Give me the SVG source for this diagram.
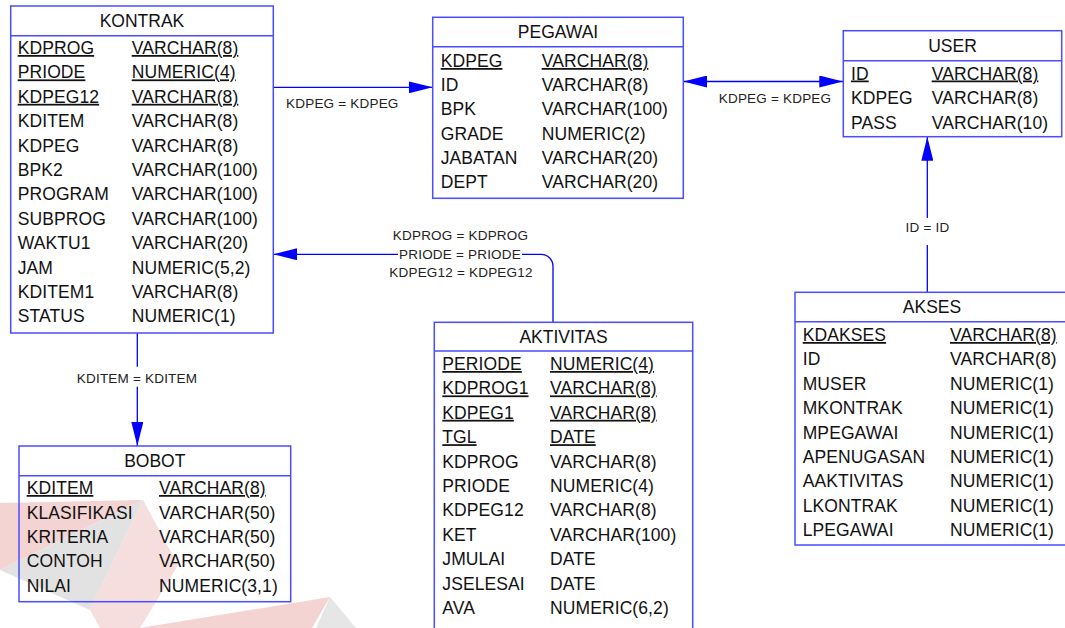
<svg xmlns="http://www.w3.org/2000/svg" width="1065" height="628" viewBox="0 0 1065 628">
  <style>
    .box { fill: none; stroke: #4b4bff; stroke-width: 1.5; }
    .sep { stroke: #4b4bff; stroke-width: 1.5; }
    .title { font-family: "Liberation Sans", Arial, sans-serif; font-size: 17.5px; fill: #111; text-anchor: middle; }
    .col { font-family: "Liberation Sans", Arial, sans-serif; font-size: 17.5px; fill: #111; letter-spacing: 0.1px; }
    .pk { text-decoration: underline; text-decoration-thickness: 2px; text-underline-offset: 2px; }
    .conn { fill: none; stroke: #0000ff; stroke-width: 1.3; }
    .lbl { font-family: "Liberation Sans", Arial, sans-serif; font-size: 13.5px; fill: #222; text-anchor: middle; letter-spacing: 0.2px; }
  </style>
  <defs>
    <marker id="arrow" viewBox="0 0 24 12" refX="24" refY="6" markerWidth="24" markerHeight="12" markerUnits="userSpaceOnUse" orient="auto-start-reverse">
      <path d="M0,0 L24,6 L0,12 Z" fill="#0000ff"/>
    </marker>
  </defs>

  <rect width="1065" height="628" fill="#ffffff"/>

  <!-- faint background logo -->
  <g id="watermark">
    <polygon points="0,503 143,500 0,570" fill="#f4d3d3"/>
    <polygon points="0,570 143,500 90,610" fill="#e2e2e2"/>
    <polygon points="143,500 178,565 140,628 100,628 90,610" fill="#f6dede"/>
    <polygon points="140,628 330,597 312,628" fill="#f4d3d3"/>
    <polygon points="330,597 356,628 316,628" fill="#e6e6e6"/>
  </g>

  <!-- relationships -->
  <g id="connectors">
    <path class="conn" d="M273.3,87.3 H432.7" marker-end="url(#arrow)"/>
    <path class="conn" d="M683.3,81.5 H843.3" marker-start="url(#arrow)" marker-end="url(#arrow)"/>
    <path class="conn" d="M553,322.3 V266.3 A12,12 0 0 0 541,254.3 H522"/>
    <path class="conn" d="M398,254.3 H273.3" marker-end="url(#arrow)"/>
    <path class="conn" d="M137.3,333 V366.7"/>
    <path class="conn" d="M137.3,386.7 V446" marker-end="url(#arrow)"/>
    <path class="conn" d="M927.3,292.3 V245"/>
    <path class="conn" d="M927.3,218 V136.7" marker-end="url(#arrow)"/>
    <text class="lbl" x="342.3" y="108">KDPEG = KDPEG</text>
    <text class="lbl" x="775" y="103">KDPEG = KDPEG</text>
    <text class="lbl" x="460.5" y="239.5">KDPROG = KDPROG</text>
    <text class="lbl" x="460" y="258.5">PRIODE = PRIODE</text>
    <text class="lbl" x="461" y="277">KDPEG12 = KDPEG12</text>
    <text class="lbl" x="137" y="383">KDITEM = KDITEM</text>
    <text class="lbl" x="927.5" y="232">ID = ID</text>
  </g>

  <!-- KONTRAK -->
  <g id="kontrak">
    <rect class="box" x="10.7" y="6" width="262.6" height="327"/>
    <line class="sep" x1="10.7" y1="35.7" x2="273.3" y2="35.7"/>
    <text class="title" x="142" y="27">KONTRAK</text>
    <text class="col pk" x="17.7" y="54">KDPROG</text><text class="col pk" x="131.7" y="54">VARCHAR(8)</text>
    <text class="col pk" x="17.7" y="78.4">PRIODE</text><text class="col pk" x="131.7" y="78.4">NUMERIC(4)</text>
    <text class="col pk" x="17.7" y="102.8">KDPEG12</text><text class="col pk" x="131.7" y="102.8">VARCHAR(8)</text>
    <text class="col" x="17.7" y="127.2">KDITEM</text><text class="col" x="131.7" y="127.2">VARCHAR(8)</text>
    <text class="col" x="17.7" y="151.6">KDPEG</text><text class="col" x="131.7" y="151.6">VARCHAR(8)</text>
    <text class="col" x="17.7" y="176">BPK2</text><text class="col" x="131.7" y="176">VARCHAR(100)</text>
    <text class="col" x="17.7" y="200.4">PROGRAM</text><text class="col" x="131.7" y="200.4">VARCHAR(100)</text>
    <text class="col" x="17.7" y="224.8">SUBPROG</text><text class="col" x="131.7" y="224.8">VARCHAR(100)</text>
    <text class="col" x="17.7" y="249.2">WAKTU1</text><text class="col" x="131.7" y="249.2">VARCHAR(20)</text>
    <text class="col" x="17.7" y="273.6">JAM</text><text class="col" x="131.7" y="273.6">NUMERIC(5,2)</text>
    <text class="col" x="17.7" y="298">KDITEM1</text><text class="col" x="131.7" y="298">VARCHAR(8)</text>
    <text class="col" x="17.7" y="322.4">STATUS</text><text class="col" x="131.7" y="322.4">NUMERIC(1)</text>
  </g>

  <!-- PEGAWAI -->
  <g id="pegawai">
    <rect class="box" x="432.7" y="17.3" width="250.6" height="181"/>
    <line class="sep" x1="432.7" y1="46.7" x2="683.3" y2="46.7"/>
    <text class="title" x="558" y="38.3">PEGAWAI</text>
    <text class="col pk" x="440.7" y="67">KDPEG</text><text class="col pk" x="541.7" y="67">VARCHAR(8)</text>
    <text class="col" x="440.7" y="91.2">ID</text><text class="col" x="541.7" y="91.2">VARCHAR(8)</text>
    <text class="col" x="440.7" y="115.4">BPK</text><text class="col" x="541.7" y="115.4">VARCHAR(100)</text>
    <text class="col" x="440.7" y="139.6">GRADE</text><text class="col" x="541.7" y="139.6">NUMERIC(2)</text>
    <text class="col" x="440.7" y="163.8">JABATAN</text><text class="col" x="541.7" y="163.8">VARCHAR(20)</text>
    <text class="col" x="440.7" y="188">DEPT</text><text class="col" x="541.7" y="188">VARCHAR(20)</text>
  </g>

  <!-- USER -->
  <g id="user">
    <rect class="box" x="843.3" y="30.7" width="218.4" height="106"/>
    <line class="sep" x1="843.3" y1="60.7" x2="1061.7" y2="60.7"/>
    <text class="title" x="952.5" y="52">USER</text>
    <text class="col pk" x="851" y="79.5">ID</text><text class="col pk" x="931.7" y="79.5">VARCHAR(8)</text>
    <text class="col" x="851" y="104">KDPEG</text><text class="col" x="931.7" y="104">VARCHAR(8)</text>
    <text class="col" x="851" y="128.5">PASS</text><text class="col" x="931.7" y="128.5">VARCHAR(10)</text>
  </g>

  <!-- BOBOT -->
  <g id="bobot">
    <rect class="box" x="19" y="446" width="271.7" height="155.7"/>
    <line class="sep" x1="19" y1="475.7" x2="290.7" y2="475.7"/>
    <text class="title" x="154.8" y="466.5">BOBOT</text>
    <text class="col pk" x="26.7" y="494">KDITEM</text><text class="col pk" x="159" y="494">VARCHAR(8)</text>
    <text class="col" x="26.7" y="518.5">KLASIFIKASI</text><text class="col" x="159" y="518.5">VARCHAR(50)</text>
    <text class="col" x="26.7" y="543">KRITERIA</text><text class="col" x="159" y="543">VARCHAR(50)</text>
    <text class="col" x="26.7" y="567">CONTOH</text><text class="col" x="159" y="567">VARCHAR(50)</text>
    <text class="col" x="26.7" y="591.5">NILAI</text><text class="col" x="159" y="591.5">NUMERIC(3,1)</text>
  </g>

  <!-- AKTIVITAS -->
  <g id="aktivitas">
    <rect class="box" x="434.3" y="322.3" width="258.4" height="330"/>
    <line class="sep" x1="434.3" y1="351" x2="692.7" y2="351"/>
    <text class="title" x="563.5" y="343">AKTIVITAS</text>
    <text class="col pk" x="442.3" y="370">PERIODE</text><text class="col pk" x="550" y="370">NUMERIC(4)</text>
    <text class="col pk" x="442.3" y="394.4">KDPROG1</text><text class="col pk" x="550" y="394.4">VARCHAR(8)</text>
    <text class="col pk" x="442.3" y="418.8">KDPEG1</text><text class="col pk" x="550" y="418.8">VARCHAR(8)</text>
    <text class="col pk" x="442.3" y="443.2">TGL</text><text class="col pk" x="550" y="443.2">DATE</text>
    <text class="col" x="442.3" y="467.6">KDPROG</text><text class="col" x="550" y="467.6">VARCHAR(8)</text>
    <text class="col" x="442.3" y="492">PRIODE</text><text class="col" x="550" y="492">NUMERIC(4)</text>
    <text class="col" x="442.3" y="516.4">KDPEG12</text><text class="col" x="550" y="516.4">VARCHAR(8)</text>
    <text class="col" x="442.3" y="540.8">KET</text><text class="col" x="550" y="540.8">VARCHAR(100)</text>
    <text class="col" x="442.3" y="565.2">JMULAI</text><text class="col" x="550" y="565.2">DATE</text>
    <text class="col" x="442.3" y="589.6">JSELESAI</text><text class="col" x="550" y="589.6">DATE</text>
    <text class="col" x="442.3" y="614">AVA</text><text class="col" x="550" y="614">NUMERIC(6,2)</text>
  </g>

  <!-- AKSES -->
  <g id="akses">
    <rect class="box" x="795" y="292.3" width="275" height="252.7"/>
    <line class="sep" x1="795" y1="321.7" x2="1070" y2="321.7"/>
    <text class="title" x="932" y="313">AKSES</text>
    <text class="col pk" x="802.7" y="341">KDAKSES</text><text class="col pk" x="950" y="341">VARCHAR(8)</text>
    <text class="col" x="802.7" y="365.4">ID</text><text class="col" x="950" y="365.4">VARCHAR(8)</text>
    <text class="col" x="802.7" y="389.8">MUSER</text><text class="col" x="950" y="389.8">NUMERIC(1)</text>
    <text class="col" x="802.7" y="414.2">MKONTRAK</text><text class="col" x="950" y="414.2">NUMERIC(1)</text>
    <text class="col" x="802.7" y="438.6">MPEGAWAI</text><text class="col" x="950" y="438.6">NUMERIC(1)</text>
    <text class="col" x="802.7" y="463">APENUGASAN</text><text class="col" x="950" y="463">NUMERIC(1)</text>
    <text class="col" x="802.7" y="487.4">AAKTIVITAS</text><text class="col" x="950" y="487.4">NUMERIC(1)</text>
    <text class="col" x="802.7" y="511.8">LKONTRAK</text><text class="col" x="950" y="511.8">NUMERIC(1)</text>
    <text class="col" x="802.7" y="536.2">LPEGAWAI</text><text class="col" x="950" y="536.2">NUMERIC(1)</text>
  </g>
</svg>
